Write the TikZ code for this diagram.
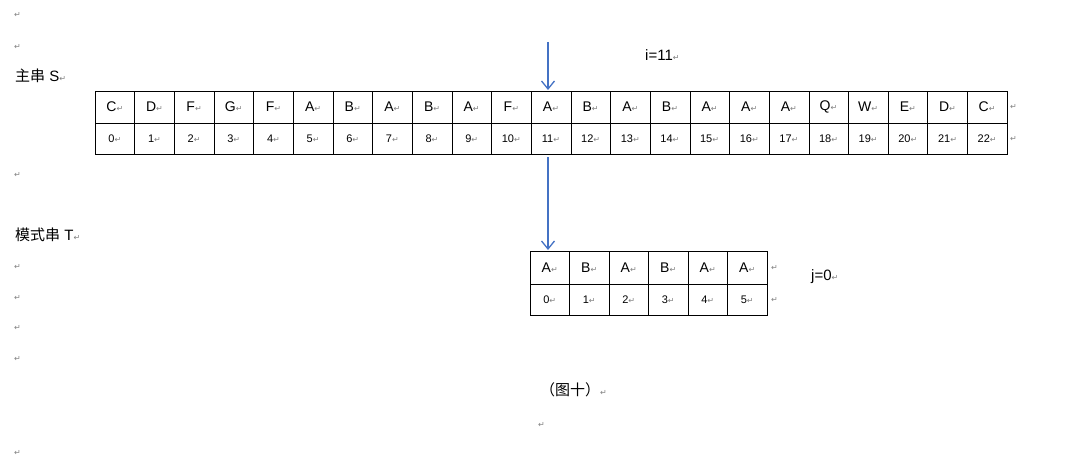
\documentclass[tikz,border=0pt]{standalone}
\usepackage{fontspec}
\usetikzlibrary{arrows.meta}
\setmainfont{Liberation Sans}
\newfontfamily\cjk{Noto Sans CJK SC}
\newfontfamily\djv{DejaVu Sans}
\newcommand{\ret}{{\djv\fontsize{8}{8}\selectfont\color{gray}↵}}
\definecolor{arrowblue}{RGB}{68,114,196}
\begin{document}
\begin{tikzpicture}[x=1pt,y=-1pt,
  txt/.style={anchor=west,inner sep=0pt,font=\fontsize{15}{15}\selectfont},
  arr/.style={draw=arrowblue,line width=1.3pt,-{Straight Barb[length=8pt,width=13pt]}}]
\useasboundingbox (0,0) rectangle (1084,468);
\def\wa{39.65}
\foreach [count=\k from 0] \c in {C,D,F,G,F,A,B,A,B,A,F,A,B,A,B,A,A,A,Q,W,E,D,C}{
  \pgfmathsetmacro\xa{95+\k*\wa}
  \draw (\xa,91) rectangle ++(\wa,32);
  \draw (\xa,123) rectangle ++(\wa,31);
  \node[font=\fontsize{14}{14}\selectfont] at (\xa+\wa/2,107) {\c\ret};
  \node[font=\fontsize{11}{11}\selectfont] at (\xa+\wa/2,139) {\k\ret};
}
\def\wb{39.5}
\foreach [count=\k from 0] \c in {A,B,A,B,A,A}{
  \pgfmathsetmacro\xa{530+\k*\wb}
  \draw (\xa,251) rectangle ++(\wb,33);
  \draw (\xa,284) rectangle ++(\wb,31);
  \node[font=\fontsize{14}{14}\selectfont] at (\xa+\wb/2,268) {\c\ret};
  \node[font=\fontsize{11}{11}\selectfont] at (\xa+\wb/2,300) {\k\ret};
}
\node[anchor=west,inner sep=0pt] (r1) at (1010,107) {\ret};
\node[anchor=west,inner sep=0pt] (r2) at (1010,139) {\ret};
\node[anchor=west,inner sep=0pt] (r3) at (771,268) {\ret};
\node[anchor=west,inner sep=0pt] (r4) at (771,300) {\ret};
\coordinate (a1s) at (548,42); \coordinate (a1e) at (548,90);
\coordinate (a2s) at (548,157); \coordinate (a2e) at (548,250);
\draw[arr] (a1s) -- (a1e);
\draw[arr] (a2s) -- (a2e);
\node[txt] (i) at (645,55) {i=11\ret};
\node[txt] (j) at (811,277) {j=0\ret};
\node[txt] (S) at (15,76) {{\cjk 主串} S\ret};
\node[txt] (T) at (15,235) {{\cjk 模式串} T\ret};
\node[txt] (fig) at (540,390) {{\cjk （图十）}\ret};
\foreach \yy in {15,47,175,267,298,328,359,453}{
  \node[anchor=west,inner sep=0pt] at (14,\yy) {\ret};
}
\node[anchor=west,inner sep=0pt] at (538,425) {\ret};
\end{tikzpicture}
\end{document}
